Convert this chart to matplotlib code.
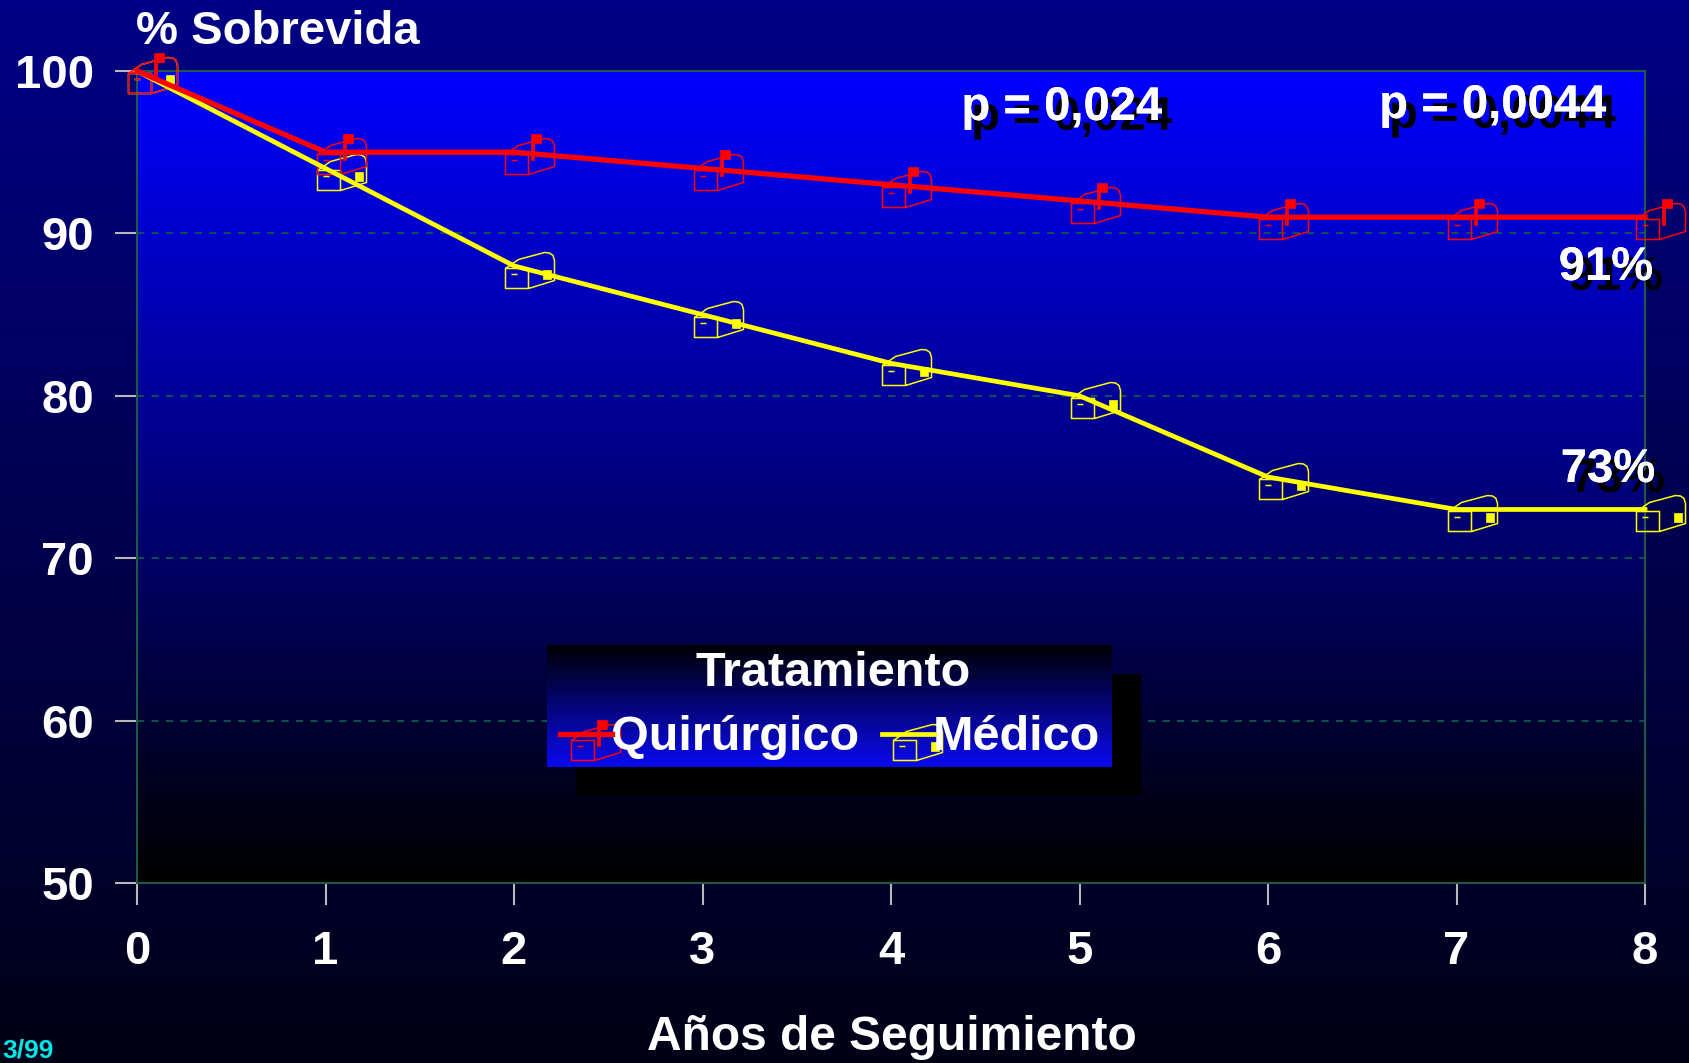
import numpy as np
import matplotlib
matplotlib.use("Agg")
import matplotlib.pyplot as plt
from matplotlib.path import Path
from matplotlib.patches import Rectangle
import matplotlib.patheffects as pe

# ---- data -------------------------------------------------------------
years = [0, 1, 2, 3, 4, 5, 6, 7, 8]
quirurgico = [100, 95, 95, 94, 93, 92, 91, 91, 91]
medico = [100, 94, 88, 85, 82, 80, 75, 73, 73]
y_ticks = [50, 60, 70, 80, 90, 100]
grid_levels = [60, 70, 80, 90]
series_labels = ["Quirúrgico", "Médico"]
legend_title = "Tratamiento"
p_labels = ["p = 0,024", "p = 0,0044"]
final_labels = ["91%", "73%"]

# ---- style ------------------------------------------------------------
W, H = 1690, 1063
DPI = 100
plt.rcParams["font.family"] = ["Liberation Sans", "DejaVu Sans"]
plt.rcParams["font.weight"] = "bold"
FS = 34
RED = "#ff0000"
YELLOW = "#ffff00"


def fx(px):
    return px / W


def fy(py):
    return 1 - py / H


def vgrad(top, bottom, n=256):
    t = np.linspace(0, 1, n)[:, None, None]
    top = np.array(top, float)[None, None, :] / 255
    bottom = np.array(bottom, float)[None, None, :] / 255
    return top * (1 - t) + bottom * t


# mailbox-like marker: outline + small filled flag (units = pixels, y up)
def outline_path():
    verts, codes = [], []

    def poly(pts, closed=False):
        for i, p in enumerate(pts):
            verts.append(p)
            codes.append(Path.MOVETO if i == 0 else Path.LINETO)
        if closed:
            verts.append(pts[0])
            codes.append(Path.CLOSEPOLY)

    poly([(-9, -2), (14, -2), (14, -22), (-9, -22)], closed=True)
    poly([(-9, -2), (4, 7), (30, 14), (35, 13.5), (38.5, 11), (40, 6),
          (40, -14), (14, -22)])
    poly([(-3, -8), (3, -8)])
    return Path(verts, codes)


def rect_path(x0, y0, x1, y1):
    return Path([(x0, y0), (x1, y0), (x1, y1), (x0, y1), (x0, y0)],
                [Path.MOVETO, Path.LINETO, Path.LINETO, Path.LINETO,
                 Path.CLOSEPOLY])


RED_FLAG = Path([(17, -8), (19.5, -8), (19.5, 9), (27, 9), (27, 18), (17, 18), (17, -8)],
                [Path.MOVETO] + [Path.LINETO] * 5 + [Path.CLOSEPOLY])
YELLOW_FLAG = rect_path(29, -13, 37, -4)
OUTLINE = outline_path()


def msize(path):
    # markersize that keeps one path unit equal to one pixel
    return 2 * np.max(np.abs(path.vertices)) * 72 / DPI


def draw_markers(axis, xs, ys, color, flag, z, clip=False):
    axis.plot(xs, ys, ls="none", marker=OUTLINE, markersize=msize(OUTLINE),
              markerfacecolor="none", markeredgecolor=color,
              markeredgewidth=1.1, zorder=z, clip_on=clip)
    axis.plot(xs, ys, ls="none", marker=flag, markersize=msize(flag),
              markerfacecolor=color, markeredgecolor=color,
              markeredgewidth=0.5, zorder=z, clip_on=clip)


fig = plt.figure(figsize=(W / DPI, H / DPI), dpi=DPI)

# figure background
bg = fig.add_axes([0, 0, 1, 1], zorder=-10)
bg.imshow(vgrad((0, 0, 135), (0, 0, 22)), aspect="auto",
          extent=[0, 1, 0, 1], origin="upper")
bg.set_axis_off()

# ---- main axes --------------------------------------------------------
L, R, T, B = 137, 1645, 71, 883
ax = fig.add_axes([fx(L), fy(B), fx(R - L), (B - T) / H])
ax.set_xlim(0, 8)
ax.set_ylim(50, 100)
ax.imshow(vgrad((0, 0, 255), (0, 0, 0)), aspect="auto",
          extent=[0, 8, 50, 100], origin="upper", zorder=0)
for g in grid_levels:
    ax.axhline(g, color="#0b5a4c", lw=1.3, ls=(0, (4, 4)), zorder=1)
for s in ax.spines.values():
    s.set_color("#1d5a46")
    s.set_linewidth(1.5)
ax.set_xticks(years)
ax.set_yticks(y_ticks)
ax.tick_params(axis="both", direction="out", length=16, width=1.5,
               color="#b8b8b8", labelcolor="white", labelsize=FS)
ax.tick_params(axis="y", pad=15)
ax.tick_params(axis="x", pad=18)
for lbl in ax.get_xticklabels() + ax.get_yticklabels():
    lbl.set_fontweight("bold")

draw_markers(ax, years, medico, YELLOW, YELLOW_FLAG, 3)
draw_markers(ax, years, quirurgico, RED, RED_FLAG, 3)
ax.plot(years, medico, color=YELLOW, lw=3.4, zorder=5,
        solid_joinstyle="miter", clip_on=False)
ax.plot(years, quirurgico, color=RED, lw=3.8, zorder=6,
        solid_joinstyle="miter", clip_on=False)

shadow = [pe.withSimplePatchShadow(offset=(7, -7), shadow_rgbFace="black",
                                   alpha=1.0), pe.Normal()]
for txt, (px, py) in zip(p_labels, [(1062, 108), (1493, 106)]):
    fig.text(fx(px), fy(py), txt, ha="center", va="center", fontsize=FS,
             color="white", fontweight="bold", path_effects=shadow)
for txt, (px, py) in zip(final_labels, [(1606, 268), (1608, 470)]):
    fig.text(fx(px), fy(py), txt, ha="center", va="center", fontsize=FS,
             color="white", fontweight="bold", path_effects=shadow)

fig.text(fx(278), fy(32), "% Sobrevida", ha="center", va="center",
         fontsize=FS, color="white", fontweight="bold")
fig.text(fx(892), fy(1038), "Años de Seguimiento", ha="center",
         va="center", fontsize=FS + 0.5, color="white", fontweight="bold")
fig.text(fx(2), fy(1050), "3/99", ha="left", va="center", fontsize=19,
         color="#00e6e6", fontweight="bold")

# ---- legend box -------------------------------------------------------
LX0, LY0, LX1, LY1 = 547, 645, 1112, 767
SH = 29
fig.patches.append(Rectangle((fx(LX0 + SH), fy(LY1 + SH)),
                             fx(LX1 - LX0), (LY1 - LY0) / H,
                             transform=fig.transFigure, facecolor="black",
                             edgecolor="none", zorder=8))
lg = fig.add_axes([fx(LX0), fy(LY1), fx(LX1 - LX0), (LY1 - LY0) / H],
                  zorder=9)
lw_, lh_ = LX1 - LX0, LY1 - LY0
lg.imshow(vgrad((0, 0, 0), (10, 10, 240)), aspect="auto",
          extent=[0, lw_, lh_, 0], origin="upper")
lg.set_xlim(0, lw_)
lg.set_ylim(lh_, 0)
lg.set_axis_off()
lg.text(833 - LX0, 674 - LY0, legend_title, ha="center", va="center",
        fontsize=FS + 1, color="white", fontweight="bold")
entry_y = 738 - LY0
handles = [(560, 612, 580, RED, RED_FLAG, 3.8, 611),
           (882, 934, 902, YELLOW, YELLOW_FLAG, 3.4, 933)]
for label, (x0, x1, xm, col, flag, lw, tx) in zip(series_labels, handles):
    draw_markers(lg, [xm - LX0], [entry_y], col, flag, 3, clip=True)
    lg.plot([x0 - LX0, x1 - LX0], [entry_y - 4, entry_y - 4], color=col,
            lw=lw, zorder=4)
    lg.text(tx - LX0, entry_y, label, ha="left", va="center",
            fontsize=FS + 1, color="white", fontweight="bold")

fig.savefig("out.png", dpi=DPI)
